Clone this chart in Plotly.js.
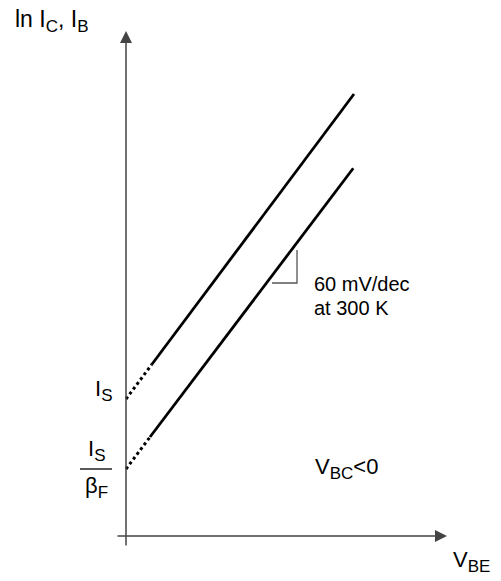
<!DOCTYPE html>
<html>
<head>
<meta charset="utf-8">
<script src="https://cdn.plot.ly/plotly-3.0.1.min.js"></script>
<style>html,body{margin:0;padding:0;background:#fff;}#chart{width:501px;height:581px;}</style>
</head>
<body>
<div id="chart"></div>
<script>
// Schematic Gummel plot data (arbitrary units: VBE along x, ln I along y)
var lnIS = 5.48;          // ln I_S
var lnISoverBF = 2.68;    // ln (I_S / beta_F)

var icDottedVBE = [0, 1.03];
var icDottedLnI = [5.48, 6.86];
var icSolidVBE  = [1.03, 9.12];
var icSolidLnI  = [6.86, 17.68];

var ibDottedVBE = [0, 0.96];
var ibDottedLnI = [2.68, 3.96];
var ibSolidVBE  = [0.96, 9.09];
var ibSolidLnI  = [3.96, 14.71];

var slopeMarkVBE = [5.84, 6.84, 6.84];
var slopeMarkLnI = [10.12, 10.12, 11.44];

var FONT = 'Liberation Sans, Arial, Helvetica, sans-serif';
var FS = 20;     // plain text
var FSL = 22;    // labels with subscripts
var SUB = 17;    // subscript size

function sub(s) { return '<sub><span style="font-size:' + SUB + 'px">' + s + '</span></sub>'; }

var traces = [
  {x: icDottedVBE, y: icDottedLnI, mode: 'lines', line: {color: '#000', width: 3, dash: 'dot'}, hoverinfo: 'skip'},
  {x: icSolidVBE,  y: icSolidLnI,  mode: 'lines', line: {color: '#000', width: 2.8}, hoverinfo: 'skip'},
  {x: ibDottedVBE, y: ibDottedLnI, mode: 'lines', line: {color: '#000', width: 3, dash: 'dot'}, hoverinfo: 'skip'},
  {x: ibSolidVBE,  y: ibSolidLnI,  mode: 'lines', line: {color: '#000', width: 2.8}, hoverinfo: 'skip'},
  {x: slopeMarkVBE, y: slopeMarkLnI, mode: 'lines', line: {color: '#555', width: 1.3}, hoverinfo: 'skip'}
];

function txt(x, y, text, size, xanchor, yanchor) {
  return {x: x, y: y, xref: 'x', yref: 'y', text: text, showarrow: false,
          xanchor: xanchor || 'left', yanchor: yanchor || 'middle',
          font: {family: FONT, size: size, color: '#000'}};
}
function arrow(x, y, ax, ay) {
  return {x: x, y: y, ax: ax, ay: ay, xref: 'x', yref: 'y', axref: 'x', ayref: 'y',
          text: '', showarrow: true, arrowhead: 2, arrowsize: 1.6, arrowwidth: 1.5,
          arrowcolor: '#444', standoff: 0};
}

var layout = {
  width: 501, height: 581,
  margin: {l: 0, r: 0, t: 0, b: 0},
  paper_bgcolor: '#fff', plot_bgcolor: '#fff',
  showlegend: false,
  xaxis: {range: [-5.04, 15.0], visible: false, fixedrange: true},
  yaxis: {range: [-1.8, 21.44], visible: false, fixedrange: true},
  shapes: [
    {type: 'line', xref: 'x', yref: 'y', x0: -1.84, x1: -0.56, y0: lnISoverBF, y1: lnISoverBF,
     line: {color: '#000', width: 1.3}}
  ],
  annotations: [
    arrow(0, 20.2, 0, -0.44),
    arrow(12.84, 0, -0.4, 0),
    txt(-4.52, 20.6, 'ln I' + sub('C') + ', I' + sub('B'), 23),
    txt(-0.5, lnIS + 0.35, 'I' + sub('S'), FSL, 'right'),
    txt(-1.2, lnISoverBF + 0.08, 'I' + sub('S'), FSL, 'center', 'bottom'),
    txt(-1.2, lnISoverBF - 0.08, 'β' + sub('F'), FSL, 'center', 'top'),
    txt(7.44, 10.1, '60 mV/dec', FS),
    txt(7.44, 9.12, 'at 300 K', FS),
    txt(7.48, 2.72, 'V' + sub('BC') + '&lt;0', FSL),
    txt(13.0, -1.0, 'V' + sub('BE'), FSL)
  ]
};

Plotly.newPlot('chart', traces, layout, {staticPlot: true, displayModeBar: false});
</script>
</body>
</html>
